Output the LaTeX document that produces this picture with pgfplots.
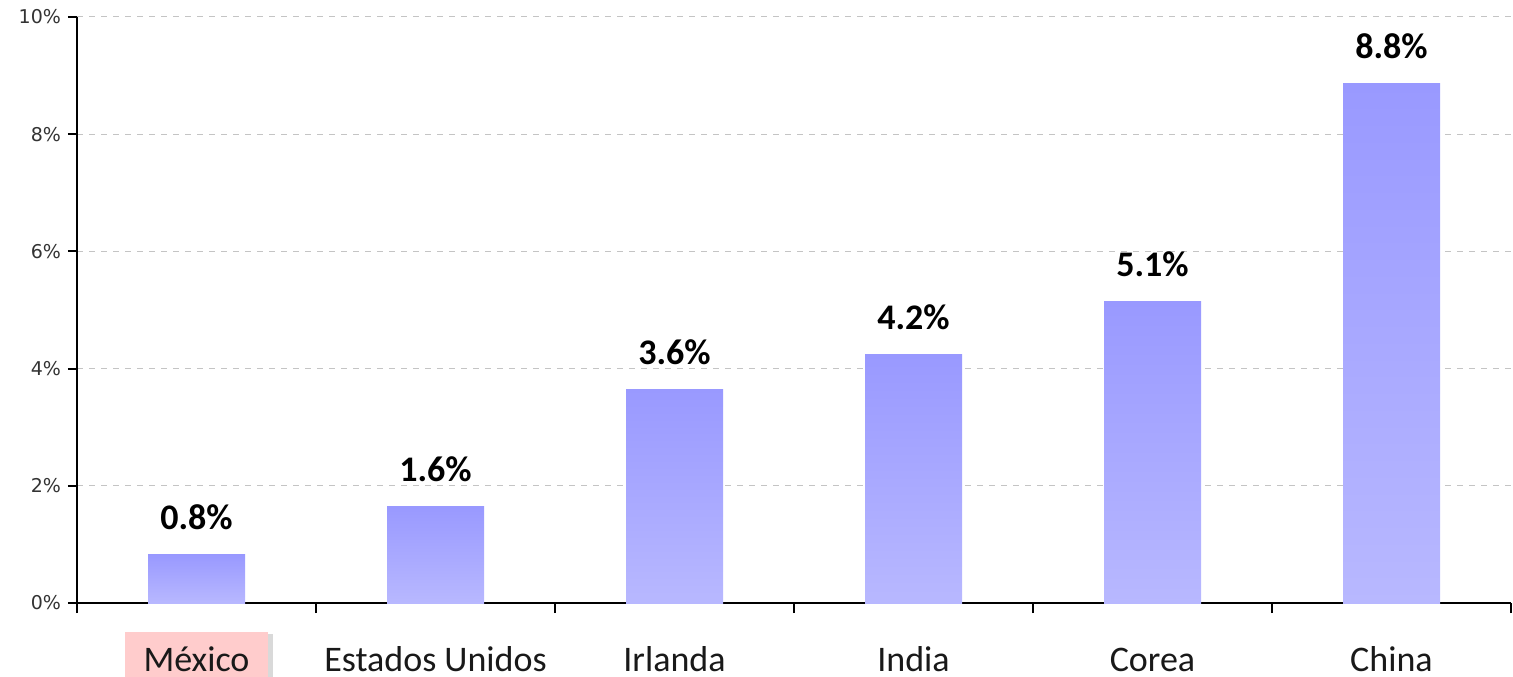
\documentclass[border=0pt]{standalone}
\usepackage{fontspec}
\setmainfont{Carlito}
\newfontfamily\dejavu{DejaVu Sans}
\usepackage{pgfplots}
\pgfplotsset{compat=1.18}
\usetikzlibrary{shadows}
\definecolor{barTop}{HTML}{9999FF}
\definecolor{barBot}{HTML}{B8B8FF}
\definecolor{gridc}{HTML}{C4C4C4}
\definecolor{mexpink}{HTML}{FFCCCC}
\definecolor{ticktxt}{HTML}{333333}
\pgfplotsset{
  mybar/.style={ybar, bar width=48.5pt, draw=none, top color=barTop, bottom color=barBot,
    point meta=explicit symbolic,
    nodes near coords,
    nodes near coords style={font=\bfseries\fontsize{18}{21.6}\selectfont, text=black, anchor=base, yshift=12.5pt}},
}
\newcommand{\mexlabel}{\tikz[baseline=(t.base)]\node[fill=mexpink, inner xsep=0pt, inner ysep=0pt, minimum width=71pt, text height=19.5pt, text depth=3pt, drop shadow={shadow xshift=2.5pt, shadow yshift=-1pt, opacity=0.15, fill=black}] (t) {México};}
\begin{document}
\begin{tikzpicture}
\begin{axis}[
  name=ax,
  scale only axis,
  width=717pt, height=293pt,
  xmin=-0.5, xmax=5.5, ymin=0, ymax=10,
  axis x line*=bottom, axis y line*=left,
  axis line style={-, line width=1pt, black},
  tick align=outside,
  xtick={0,1,2,3,4,5},
  xticklabels={{\mexlabel},Estados Unidos,Irlanda,India,Corea,China},
  major x tick style={draw=none},
  minor xtick={-0.5,0.5,1.5,2.5,3.5,4.5,5.5},
  minor x tick style={line width=1pt, black},
  minor tick length=5pt,
  xticklabel style={font=\fontsize{18}{21.6}\selectfont, text=black!90, anchor=base, yshift=-29.5pt, inner ysep=0pt, text depth=0pt},
  ytick={0,2,4,6,8,10},
  yticklabels={0\%,2\%,4\%,6\%,8\%,10\%},
  major tick length=4.5pt,
  y tick style={line width=1pt, black},
  yticklabel style={font=\dejavu\fontsize{9.5}{11}\selectfont, text=ticktxt},
  ymajorgrids,
  major grid style={dashed, dash pattern=on 3pt off 3pt, gridc, line width=0.5pt},
  clip=false,
]
\addplot[mybar] coordinates {(0,0.82) [0.8\%]};
\addplot[mybar] coordinates {(1,1.64) [1.6\%]};
\addplot[mybar] coordinates {(2,3.65) [3.6\%]};
\addplot[mybar] coordinates {(3,4.24) [4.2\%]};
\addplot[mybar] coordinates {(4,5.15) [5.1\%]};
\addplot[mybar] coordinates {(5,8.86) [8.8\%]};
\end{axis}
\pgfresetboundingbox
\useasboundingbox ([xshift=-38.5pt,yshift=-36.5pt]ax.south west) rectangle ([xshift=1pt,yshift=8.5pt]ax.north east);
\end{tikzpicture}
\end{document}
